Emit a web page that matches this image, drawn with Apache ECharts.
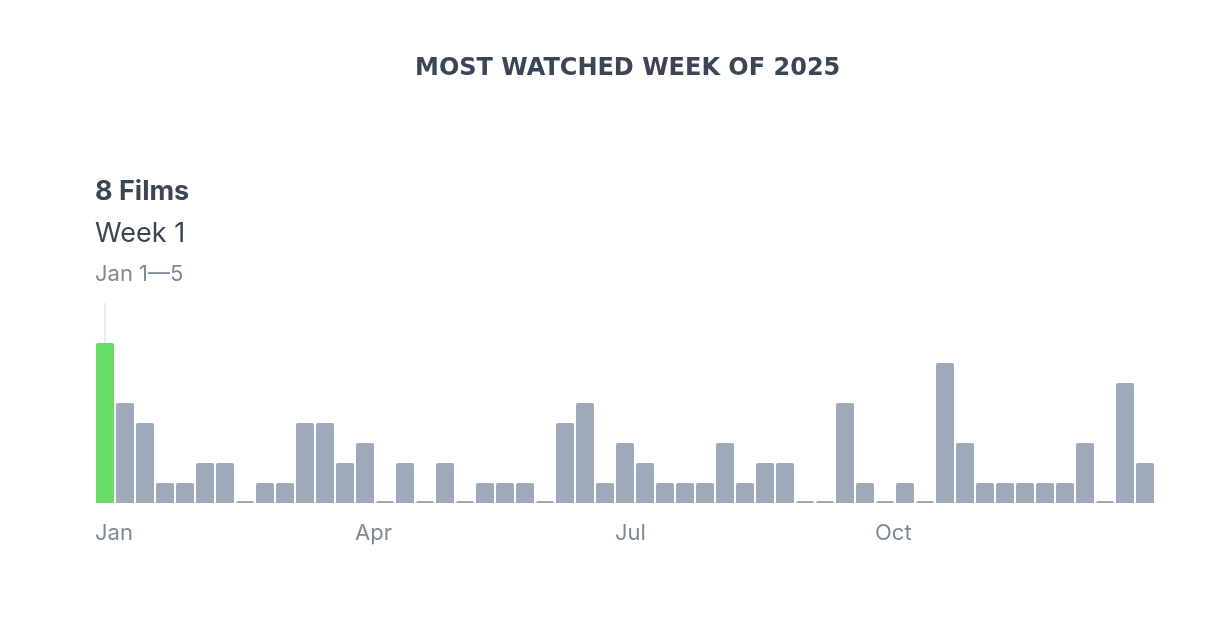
<!DOCTYPE html>
<html lang="en">
  <head>
    <meta charset="UTF-8" />
    <title>Most Watched Week of 2025</title>
    <style>
      html, body {
        margin: 0;
        padding: 0;
        width: 100%;
        height: 100%;
        overflow: hidden;
        background: #fff;
      }
      #chart {
        width: 100%;
        height: 100%;
      }
    </style>
    <script src="https://cdnjs.cloudflare.com/ajax/libs/echarts/6.0.0/echarts.min.js"></script>
  </head>
  <body>
    <div id="chart"></div>
    <script>
      // films watched per week, weeks 1..53
      const films = [
        8, 5, 4, 1, 1, 2, 2, 0, 1, 1, 4, 4, 2, 3, 0, 2, 0, 2,
        0, 1, 1, 1, 0, 4, 5, 1, 3, 2, 1, 1, 1, 3, 1, 2, 2, 0,
        0, 5, 1, 0, 1, 0, 7, 3, 1, 1, 1, 1, 1, 3, 0, 6, 2
      ];
      const weeks = films.map((_, i) => "Week " + (i + 1));
      // month labels at the week they start
      const monthWeeks = [0, 13, 26, 39];
      const monthNames = ["Jan", "Apr", "Jul", "Oct"];

      const highlight = films.indexOf(Math.max(...films));

      const dark = "#3a4656";
      const grey = "#7d8a9a";

      document.addEventListener("DOMContentLoaded", function () {
        const chart = echarts.init(document.getElementById("chart"));
        window.addEventListener("resize", () => chart.resize());

        const option = {
          animation: false,
          textStyle: { fontFamily: "Inter, 'Noto Sans', sans-serif" },
          title: {
            text: "MOST WATCHED WEEK OF 2025",
            left: 410,
            top: 52,
            textStyle: {
              color: dark,
              fontSize: 24,
              fontWeight: "bold",
              fontFamily: "'DejaVu Sans', sans-serif"
            }
          },
          graphic: [
            {
              type: "text",
              left: 95,
              top: 178,
              style: { text: films[highlight] + " Films", fill: dark, font: "bold 27px Inter, sans-serif" }
            },
            {
              type: "text",
              left: 95,
              top: 220,
              style: { text: weeks[highlight], fill: dark, font: "27px Inter, sans-serif" }
            },
            {
              type: "text",
              left: 95,
              top: 263,
              style: { text: "Jan 1\u20145", fill: grey, font: "22px Inter, sans-serif" }
            }
          ],
          grid: { left: 95, right: 63, top: 303, bottom: 120 },
          xAxis: [
            {
              type: "category",
              data: weeks,
              axisLine: { show: false },
              axisTick: { show: false },
              axisLabel: { show: false }
            },
            {
              type: "value",
              position: "bottom",
              min: 0,
              max: films.length,
              interval: 13,
              axisLine: { show: false },
              axisTick: { show: false },
              splitLine: { show: false },
              axisLabel: {
                margin: 19,
                align: "left",
                color: grey,
                fontSize: 22,
                formatter: (v) => {
                  const k = monthWeeks.indexOf(v);
                  return k >= 0 ? monthNames[k] : "";
                }
              }
            }
          ],
          yAxis: {
            type: "value",
            min: 0,
            max: 10,
            show: false
          },
          series: [
            {
              type: "bar",
              barWidth: 18,
              barMinHeight: 2,
              data: films.map((v, i) => ({
                value: v,
                itemStyle: { color: i === highlight ? "#66dd66" : "#9eaaba" }
              })),
              itemStyle: { borderRadius: [2, 2, 0, 0] },
              markLine: {
                silent: true,
                symbol: "none",
                label: { show: false },
                lineStyle: { color: "#e2e6eb", width: 1.5, type: "solid" },
                data: [[{ coord: [highlight, 10] }, { coord: [highlight, films[highlight]] }]]
              }
            }
          ]
        };

        chart.setOption(option);
      });
    </script>
  </body>
</html>
